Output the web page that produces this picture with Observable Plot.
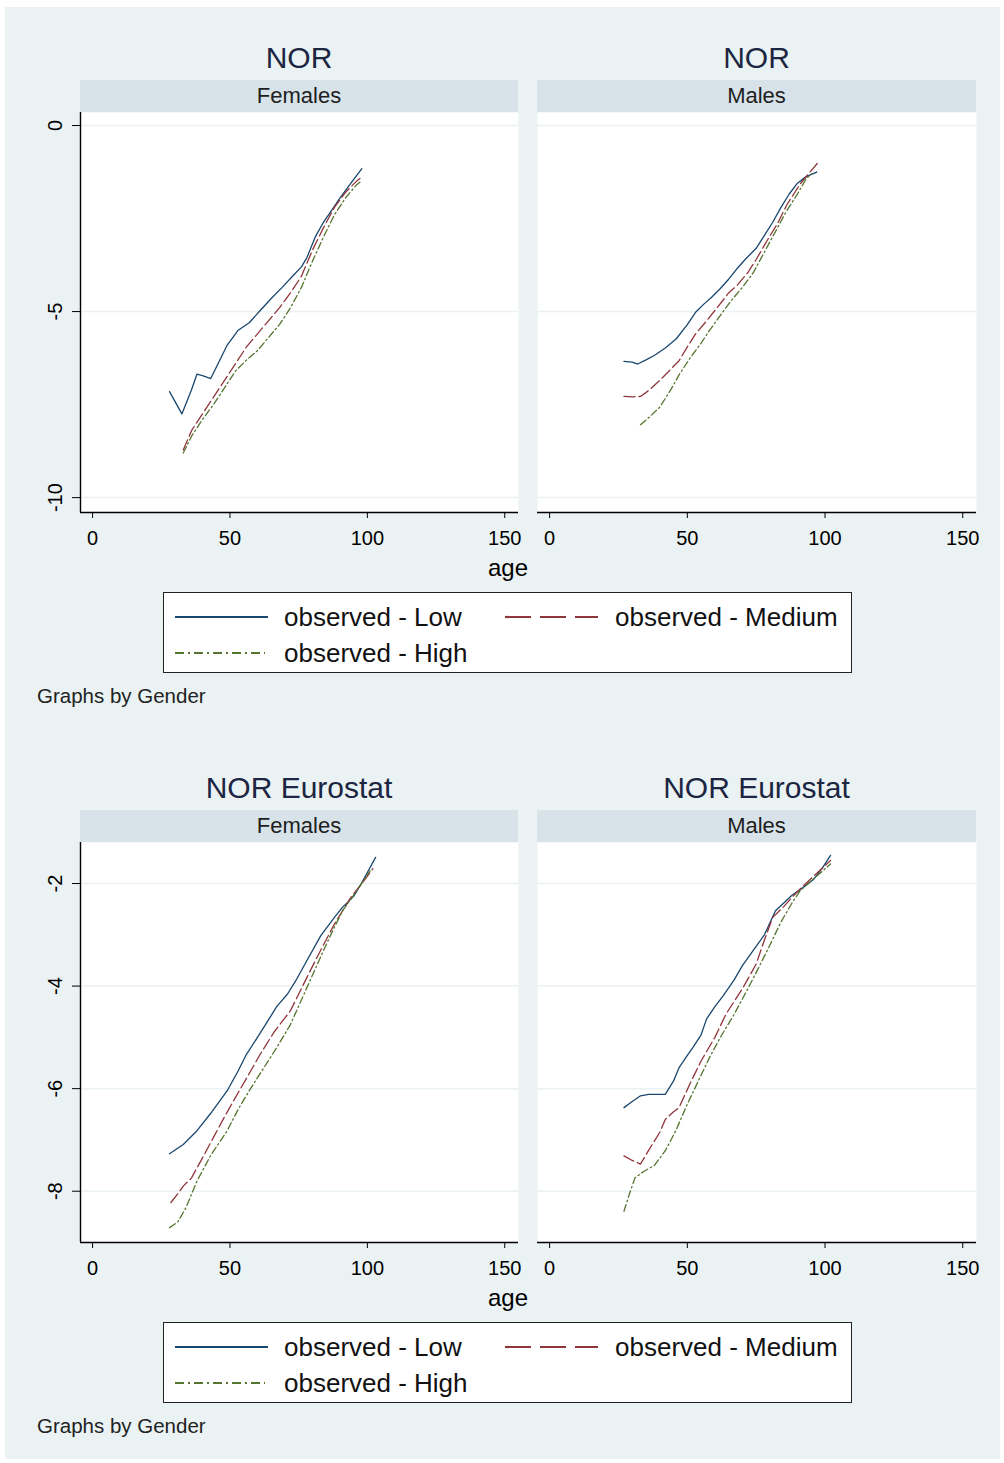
<!DOCTYPE html>
<html><head><meta charset="utf-8">
<script src="https://cdn.jsdelivr.net/npm/d3@7"></script>
<script src="https://cdn.jsdelivr.net/npm/@observablehq/plot@0.6"></script>
<style>
html,body{margin:0;padding:0;background:#fff;}
body{width:1004px;height:1463px;position:relative;overflow:hidden;font-family:"Liberation Sans",Arial,sans-serif;color:#000;}
#bg{position:absolute;left:5px;top:7px;width:995px;height:1452px;background:#eaf2f3;}
.abs{position:absolute;white-space:nowrap;}
.title{font-size:30px;line-height:30px;text-align:center;color:#1c2541;}
.strip{background:#d7e2e9;font-size:22px;line-height:32px;text-align:center;color:#1e1e1e;}
.lbl{font-size:26px;line-height:30px;color:#111;}
.legbox{background:#fff;border:1.5px solid #222;box-sizing:border-box;}
</style>
</head><body>
<div id="bg"></div>
<script>
// ---------- data ----------
const xTicks = [0, 50, 100, 150];
const topYTicks = [0, -5, -10];
const topYLabels = ["0", "-5", "-10"];
const botYTicks = [-2, -4, -6, -8];
const botYLabels = ["-2", "-4", "-6", "-8"];
const seriesNames = ["observed - Low", "observed - Medium", "observed - High"];
const panelTitles = ["NOR", "NOR Eurostat"];
const genders = ["Females", "Males"];

// NOR – Females
const norF_low_age = [28, 32.5, 36, 38, 40, 43, 46, 49, 53, 57, 61, 65, 69, 73, 76, 78, 81, 84, 87, 90, 94, 98];
const norF_low = [-7.15, -7.75, -7.1, -6.68, -6.72, -6.8, -6.35, -5.9, -5.5, -5.3, -4.97, -4.65, -4.35, -4.03, -3.8, -3.55, -3.0, -2.6, -2.28, -1.95, -1.55, -1.16];
const norF_med_age = [33, 36, 40, 44, 48, 52, 56, 60, 64, 68, 72, 76, 80, 84, 88, 92, 96, 98];
const norF_med = [-8.72, -8.2, -7.75, -7.3, -6.85, -6.4, -5.95, -5.6, -5.25, -4.9, -4.5, -4.05, -3.35, -2.75, -2.2, -1.8, -1.5, -1.38];
const norF_high_age = [33, 36, 40, 44, 48, 52, 56, 60, 64, 68, 72, 76, 80, 84, 88, 92, 96, 98];
const norF_high = [-8.8, -8.35, -7.9, -7.5, -7.05, -6.6, -6.3, -6.05, -5.7, -5.35, -4.9, -4.35, -3.65, -3.0, -2.4, -1.95, -1.6, -1.48];

// NOR – Males
const norM_low_age = [27, 30, 32, 35, 38, 42, 46, 50, 53, 56, 59, 62, 65, 68, 71, 75, 78, 81, 84, 87, 90, 93, 97];
const norM_low = [-6.34, -6.36, -6.41, -6.3, -6.18, -5.98, -5.73, -5.35, -5.02, -4.8, -4.6, -4.38, -4.13, -3.85, -3.6, -3.3, -2.95, -2.6, -2.2, -1.84, -1.55, -1.38, -1.25];
const norM_med_age = [27, 30, 33, 36, 40, 44, 47, 50, 53, 57, 61, 65, 68, 72, 75, 79, 83, 86, 89, 91, 94, 98];
const norM_med = [-7.28, -7.29, -7.28, -7.12, -6.85, -6.55, -6.32, -5.95, -5.6, -5.25, -4.88, -4.5, -4.3, -3.95, -3.6, -3.09, -2.6, -2.15, -1.8, -1.57, -1.3, -0.95];
const norM_high_age = [33, 36, 40, 44, 47, 51, 55, 58, 62, 66, 70, 74, 78, 82, 86, 90, 93, 95];
const norM_high = [-8.04, -7.85, -7.57, -7.1, -6.7, -6.25, -5.85, -5.51, -5.1, -4.7, -4.35, -3.95, -3.4, -2.85, -2.3, -1.84, -1.45, -1.3];

// NOR Eurostat – Females
const euF_low_age = [28, 33, 38, 43, 49, 53, 56, 60, 64, 67, 71, 74, 78, 83, 88, 91, 95, 98, 103];
const euF_low = [-7.27, -7.09, -6.82, -6.48, -6.04, -5.65, -5.33, -5.0, -4.66, -4.4, -4.15, -3.89, -3.5, -3.02, -2.66, -2.46, -2.25, -1.98, -1.49];
const euF_med_age = [28.5, 31, 33, 36, 40, 44, 48, 52, 56, 61, 66, 72, 78, 83, 88, 94, 98, 102];
const euF_med = [-8.22, -8.05, -7.9, -7.74, -7.35, -6.95, -6.55, -6.17, -5.8, -5.33, -4.9, -4.48, -3.83, -3.3, -2.79, -2.27, -2.0, -1.71];
const euF_high_age = [28, 31, 34, 38, 43, 49, 53, 57, 62, 67, 72, 78, 84, 88, 91, 96, 101];
const euF_high = [-8.71, -8.6, -8.32, -7.8, -7.3, -6.82, -6.4, -6.04, -5.62, -5.2, -4.75, -4.03, -3.31, -2.85, -2.53, -2.15, -1.75];

// NOR Eurostat – Males
const euM_low_age = [27, 30, 33, 36, 40, 42, 45, 47, 50, 52, 55, 57, 60, 63, 67, 70, 74, 78, 82, 85, 88, 92, 96, 99, 102];
const euM_low = [-6.37, -6.25, -6.14, -6.11, -6.11, -6.11, -5.85, -5.59, -5.35, -5.2, -4.95, -4.64, -4.4, -4.19, -3.88, -3.6, -3.3, -3.0, -2.53, -2.38, -2.23, -2.08, -1.91, -1.7, -1.45];
const euM_med_age = [27, 30, 33, 36, 40, 42, 45, 47, 51, 55, 60, 64, 70, 75, 78, 81, 85, 88, 92, 96, 102];
const euM_med = [-7.31, -7.4, -7.47, -7.2, -6.85, -6.6, -6.45, -6.37, -5.9, -5.46, -5.0, -4.55, -4.05, -3.57, -3.1, -2.66, -2.45, -2.27, -2.05, -1.85, -1.55];
const euM_high_age = [27, 29, 31, 34, 38, 42, 46, 50, 54, 58, 62, 67, 72, 76, 80, 84, 88, 91, 96, 102];
const euM_high = [-8.39, -8.05, -7.74, -7.62, -7.5, -7.21, -6.8, -6.3, -5.85, -5.4, -5.0, -4.55, -4.05, -3.63, -3.2, -2.75, -2.38, -2.14, -1.9, -1.62];

// ---------- styling ----------
const COL = {low: "#1a476f", med: "#90353b", high: "#55752f"};
const DASH = {low: null, med: "11,4", high: "7,3,1.5,3"};
const LEGDASH = {low: null, med: "26,9", high: "9,4,2,4"};
const xDomain = [-4.4, 155];
const FONT = '"Liberation Sans", Arial, sans-serif';

const rows = (ages, vals) => ages.map((a, i) => ({age: a, v: vals[i]}));

function panel({low, med, high, yDomain, yTicks, yLabels, showY}) {
  const mL = showY ? 80 : 14;
  const plotW = showY ? 438 : 439;
  const mR = 22;
  const marks = [
    Plot.frame({fill: "white", stroke: "none"}),
    Plot.gridY(yTicks, {stroke: "#eaf2f3", strokeOpacity: 1, strokeWidth: 1.5}),
    Plot.line(low, {x: "age", y: "v", stroke: COL.low, strokeWidth: 1.3}),
    Plot.line(med, {x: "age", y: "v", stroke: COL.med, strokeWidth: 1.3, strokeDasharray: DASH.med}),
    Plot.line(high, {x: "age", y: "v", stroke: COL.high, strokeWidth: 1.3, strokeDasharray: DASH.high}),
    Plot.ruleY([yDomain[0]], {stroke: "#000", strokeWidth: 1.4}),
    Plot.axisX(xTicks, {anchor: "bottom", tickSize: 6, tickPadding: 12, tickFormat: d => String(d), fontSize: 20, label: null})
  ];
  if (showY) {
    marks.push(
      Plot.ruleX([xDomain[0]], {stroke: "#000", strokeWidth: 1.4}),
      Plot.axisY(yTicks, {anchor: "left", tickSize: 8, tickFormat: () => "", label: null}),
      Plot.text(yTicks, {y: d => d, text: (d, i) => yLabels[i], rotate: -90, frameAnchor: "left", dx: -25,
        fontSize: 20, textAnchor: "middle", lineAnchor: "middle", fill: "#000"})
    );
  }
  return Plot.plot({
    width: mL + plotW + mR, height: 450,
    marginLeft: mL, marginRight: mR, marginTop: 0, marginBottom: 50,
    x: {domain: xDomain, axis: null, label: null},
    y: {domain: yDomain, axis: null, label: null},
    style: {background: "transparent", fontFamily: FONT, fontSize: "20px", color: "#000", overflow: "visible"},
    marks
  });
}

function addDiv(cls, text, left, top, width, height, extra) {
  const d = document.createElement("div");
  d.className = "abs " + cls;
  d.textContent = text;
  Object.assign(d.style, {left: left + "px", top: top + "px"});
  if (width != null) d.style.width = width + "px";
  if (height != null) d.style.height = height + "px";
  if (extra) Object.assign(d.style, extra);
  document.body.appendChild(d);
  return d;
}

function place(el, left, top) {
  el.style.position = "absolute";
  el.style.left = left + "px";
  el.style.top = top + "px";
  document.body.appendChild(el);
}

function swatch(key, left, cy, w) {
  const ns = "http://www.w3.org/2000/svg";
  const svg = document.createElementNS(ns, "svg");
  svg.setAttribute("width", w); svg.setAttribute("height", 10);
  const l = document.createElementNS(ns, "line");
  l.setAttribute("x1", 0); l.setAttribute("x2", w); l.setAttribute("y1", 5); l.setAttribute("y2", 5);
  l.setAttribute("stroke", COL[key]); l.setAttribute("stroke-width", 2.2);
  if (LEGDASH[key]) l.setAttribute("stroke-dasharray", LEGDASH[key]);
  svg.appendChild(l);
  svg.style.position = "absolute"; svg.style.left = left + "px"; svg.style.top = (cy - 5) + "px";
  document.body.appendChild(svg);
}

function block(off, title, dataF, dataM, yDomain, yTicks, yLabels) {
  const panels = [
    {x0: 80, w: 438, data: dataF, g: genders[0], svgLeft: 0, showY: true},
    {x0: 537, w: 439, data: dataM, g: genders[1], svgLeft: 523, showY: false}
  ];
  for (const p of panels) {
    addDiv("title", title, p.x0, 43 + off, p.w, 30);
    addDiv("strip", p.g, p.x0, 80 + off, p.w, 32);
    place(panel({...p.data, yDomain, yTicks, yLabels, showY: p.showY}), p.svgLeft, 112 + off);
  }
  addDiv("", "age", 470, 553 + off, 76, 30, {fontSize: "24px", lineHeight: "30px", textAlign: "center"});
  addDiv("legbox", "", 163, 592 + off, 689, 81);
  swatch("low", 175, 617 + off, 93);
  addDiv("lbl", seriesNames[0], 284, 602 + off);
  swatch("med", 505, 617 + off, 93);
  addDiv("lbl", seriesNames[1], 615, 602 + off);
  swatch("high", 175, 653 + off, 90);
  addDiv("lbl", seriesNames[2], 284, 638 + off);
  addDiv("", "Graphs by Gender", 37, 684 + off, null, null, {fontSize: "20.5px", lineHeight: "24px", color: "#222"});
}

block(0, panelTitles[0],
  {low: rows(norF_low_age, norF_low), med: rows(norF_med_age, norF_med), high: rows(norF_high_age, norF_high)},
  {low: rows(norM_low_age, norM_low), med: rows(norM_med_age, norM_med), high: rows(norM_high_age, norM_high)},
  [-10.4, 0.35], topYTicks, topYLabels);

block(730, panelTitles[1],
  {low: rows(euF_low_age, euF_low), med: rows(euF_med_age, euF_med), high: rows(euF_high_age, euF_high)},
  {low: rows(euM_low_age, euM_low), med: rows(euM_med_age, euM_med), high: rows(euM_high_age, euM_high)},
  [-9.0, -1.2], botYTicks, botYLabels);
</script>
</body></html>
